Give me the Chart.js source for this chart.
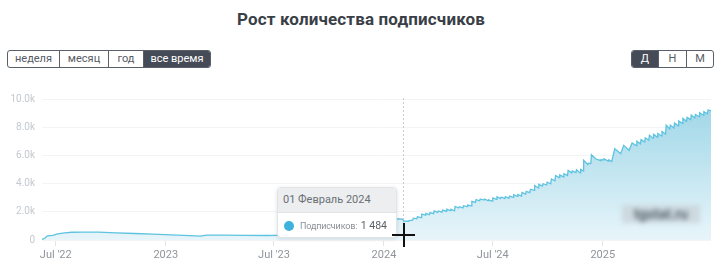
<!DOCTYPE html>
<html>
<head>
<meta charset="utf-8">
<script src="https://cdn.jsdelivr.net/npm/chart.js@4"></script>
<style>
  html,body{margin:0;padding:0;background:#fff;width:722px;height:273px;overflow:hidden;font-family:Roboto,"Open Sans",sans-serif;}
  #title{position:absolute;top:9px;left:0;width:722px;text-align:center;font-size:17px;font-weight:700;color:#3a3f47;letter-spacing:0.15px;}
  .grp{position:absolute;top:50px;height:18px;display:flex;border:1px solid #5a606a;border-radius:3px;overflow:hidden;box-sizing:border-box;}
  .grp div{height:16px;line-height:16px;text-align:center;font-size:11px;color:#555b63;border-right:1px solid #5a606a;box-sizing:border-box;}
  .grp div:last-child{border-right:none;}
  .grp div.on{background:#464c57;color:#fff;}
  #wrap{position:absolute;top:85px;left:0;width:722px;height:188px;}
  #tip{position:absolute;top:187px;width:120px;height:51px;background:#fff;border:1px solid #e2e4e6;border-radius:4px;box-shadow:0 1px 4px rgba(0,0,0,0.12);box-sizing:border-box;overflow:hidden;}
  #tip .hd{height:24px;background:#eceeef;border-bottom:1px solid #e0e2e4;font-size:11px;color:#6b7077;line-height:24px;padding-left:5px;}
  #tip .bd{height:26px;position:relative;font-size:10px;color:#8a8f95;line-height:26px;}
  #tip .dot{position:absolute;left:6px;top:8px;width:10px;height:10px;border-radius:50%;background:#3eb2dc;}
  #tip .lb{position:absolute;left:22px;top:0;font-size:9px;letter-spacing:-0.15px;}
  #tip .vl{position:absolute;right:9px;top:0;color:#5a5f66;font-size:10.5px;}
  #cross{position:absolute;width:23px;height:24px;}
  #cross .h{position:absolute;left:0;top:11px;width:23px;height:2px;background:#111;}
  #cross .v{position:absolute;left:11px;top:0;width:2px;height:24px;background:#111;}
  #wm{position:absolute;left:622px;top:205px;width:78px;height:18px;font-size:14px;font-weight:700;color:#56636b;filter:blur(2.8px);line-height:18px;text-align:center;background:rgba(200,210,215,0.75);}
</style>
</head>
<body>
<div id="title">Рост количества подписчиков</div>
<div class="grp" style="left:7px;width:204px;">
  <div style="width:52px">неделя</div><div style="width:49px">месяц</div><div style="width:35px">год</div><div class="on" style="width:66px">все время</div>
</div>
<div class="grp" style="left:631px;width:83px;">
  <div class="on" style="width:27px">Д</div><div style="width:28px">Н</div><div style="width:26px">М</div>
</div>
<div id="wrap"><canvas id="c" width="722" height="188"></canvas></div>
<div id="wm">tgstat.ru</div>
<div id="tip"><div class="hd">01 Февраль 2024</div><div class="bd"><span class="dot"></span><span class="lb">Подписчиков:</span><span class="vl">1 484</span></div></div>
<div id="cross"><div class="h"></div><div class="v"></div></div>
<script>
const seriesName = 'Подписчиков';
const tickDates = ['2022-07-01','2023-01-01','2023-07-01','2024-01-01','2024-07-01','2025-01-01'];
const tickLabels = ["Jul '22","2023","Jul '23","2024","Jul '24","2025"];
const yTicks = [0,2000,4000,6000,8000,10000];
const xRange = ['2022-06-08','2025-07-01'];
const hoverDate = '2024-02-01';

const dates = [
'2022-06-08','2022-06-13','2022-06-17','2022-06-26','2022-07-04','2022-07-16','2022-07-28','2022-08-15','2022-09-10','2022-10-10',
'2022-11-10','2022-12-10','2023-01-10','2023-02-10','2023-02-28','2023-03-10','2023-04-10','2023-05-15','2023-06-20','2023-07-20',
'2023-08-20','2023-09-20','2023-10-20','2023-11-20','2023-12-20','2024-01-10','2024-01-20','2024-01-26','2024-02-01','2024-02-03',
'2024-02-11','2024-02-12','2024-02-18','2024-02-19','2024-02-25','2024-02-26','2024-03-03','2024-03-04','2024-03-10','2024-03-11',
'2024-03-17','2024-03-18','2024-03-24','2024-03-25','2024-03-31','2024-04-01','2024-04-07','2024-04-08','2024-04-14','2024-04-15',
'2024-04-21','2024-04-22','2024-04-28','2024-04-29','2024-05-05','2024-05-06','2024-05-12','2024-05-13','2024-05-19','2024-05-20',
'2024-05-26','2024-05-27','2024-06-02','2024-06-03','2024-06-09','2024-06-10','2024-06-16','2024-06-17','2024-06-23','2024-06-24',
'2024-06-30','2024-07-01','2024-07-07','2024-07-08','2024-07-14','2024-07-15','2024-07-21','2024-07-22','2024-07-28','2024-07-29',
'2024-08-04','2024-08-05','2024-08-11','2024-08-12','2024-08-18','2024-08-19','2024-08-25','2024-08-26','2024-09-01','2024-09-02',
'2024-09-08','2024-09-09','2024-09-15','2024-09-16','2024-09-22','2024-09-23','2024-09-29','2024-09-30','2024-10-06','2024-10-07',
'2024-10-13','2024-10-14','2024-10-20','2024-10-21','2024-10-27','2024-10-28','2024-11-03','2024-11-04','2024-11-10','2024-11-11',
'2024-11-17','2024-11-18','2024-11-24','2024-11-25','2024-11-29','2024-11-30','2024-12-07','2024-12-08','2024-12-12','2024-12-13',
'2024-12-20','2024-12-28','2024-12-29','2025-01-02','2025-01-03','2025-01-10','2025-01-11','2025-01-16','2025-01-21','2025-01-31',
'2025-02-05','2025-02-14','2025-02-19','2025-02-26','2025-02-27','2025-03-05','2025-03-06','2025-03-12','2025-03-13','2025-03-19',
'2025-03-20','2025-03-26','2025-03-27','2025-04-02','2025-04-03','2025-04-09','2025-04-10','2025-04-16','2025-04-17','2025-04-23',
'2025-04-24','2025-04-30','2025-05-01','2025-05-07','2025-05-08','2025-05-14','2025-05-15','2025-05-21','2025-05-22','2025-05-28',
'2025-05-29','2025-06-04','2025-06-05','2025-06-11','2025-06-12','2025-06-18','2025-06-19','2025-06-25','2025-06-26','2025-07-01'
];
const subscribers = [
30,140,300,330,440,510,550,565,555,510,
460,410,360,310,270,350,340,330,320,340,
390,480,640,880,1180,1400,1490,1500,1484,1340,
1330,1380,1400,1550,1500,1640,1580,1830,1760,1880,
1800,1950,1870,2070,1960,2060,1980,2120,2040,2190,
2080,2180,2070,2380,2270,2360,2280,2430,2360,2480,
2420,2740,2660,2860,2780,2910,2830,2900,2790,2840,
2760,2980,2880,3070,2940,3050,2940,3070,2960,3110,
3020,3210,3090,3230,3120,3380,3260,3450,3360,3600,
3520,3860,3690,3950,3820,3990,3900,4100,3980,4330,
4200,4570,4420,4620,4480,4700,4580,4930,4760,4900,
4780,4980,4760,5000,4900,5650,5350,5450,5420,6050,
5760,5640,5700,5680,5760,5600,5680,5570,6480,6120,
6710,6360,6880,6700,7000,6820,7120,6950,7250,7080,
7430,7220,7500,7300,7560,7380,7700,7520,8140,7880,
8150,7950,8300,8100,8450,8280,8620,8420,8700,8540,
8860,8660,8900,8760,9020,8850,9100,8950,9220,9170
];

const points = dates.map((d,i)=>({x:Date.parse(d), y:subscribers[i]}));
const CANVAS_H = 188;

const hoverPlugin = {
  id:'hover',
  afterDatasetsDraw(chart){
    const {ctx, chartArea, scales} = chart;
    const px = Math.round(scales.x.getPixelForValue(Date.parse(hoverDate))) + 0.5;
    ctx.save();
    ctx.strokeStyle = '#c9cdd1';
    ctx.lineWidth = 1;
    ctx.setLineDash([2,2]);
    ctx.beginPath();
    ctx.moveTo(px, chartArea.top - 1);
    ctx.lineTo(px, chartArea.bottom);
    ctx.stroke();
    ctx.restore();
  }
};

const chart = new Chart(document.getElementById('c'), {
  type:'line',
  data:{datasets:[{
    label: seriesName,
    data: points,
    borderColor:'#5ec3e0',
    borderWidth:1.3,
    pointRadius:0,
    tension:0,
    fill:'origin',
    backgroundColor:(c)=>{
      const ch=c.chart, ca=ch.chartArea;
      if(!ca) return 'rgba(160,214,231,0.5)';
      const g=ch.ctx.createLinearGradient(0,ca.top,0,ca.bottom);
      g.addColorStop(0,'#9cd5e7');
      g.addColorStop(1,'#e8f5fa');
      return g;
    }
  }]},
  options:{
    responsive:false,
    animation:false,
    events:[],
    layout:{padding:{top:14,right:11,left:0,bottom:0}},
    plugins:{legend:{display:false},tooltip:{enabled:false}},
    scales:{
      x:{
        type:'linear',
        min:Date.parse(xRange[0]),
        max:Date.parse(xRange[1]),
        afterBuildTicks(s){ s.ticks = tickDates.map(d=>({value:Date.parse(d)})); },
        afterFit(s){ s.height = CANVAS_H - 14 - 141; },
        ticks:{
          autoSkip:false,maxRotation:0,padding:3,color:'#8f959b',
          font:{family:'Roboto',size:11},
          callback:(v)=>{const i=tickDates.findIndex(d=>Date.parse(d)===v);return i>=0?tickLabels[i]:'';}
        },
        grid:{drawOnChartArea:false,tickLength:6,color:'#e3e5e7'},
        border:{display:false}
      },
      y:{
        min:0,max:10000,
        afterBuildTicks(s){ s.ticks = yTicks.map(v=>({value:v})); },
        afterFit(s){ s.width = 42; },
        ticks:{
          padding:7,color:'#c3c9cf',font:{family:'Roboto',size:10},
          callback:(v)=> v===0 ? '0' : (v/1000).toFixed(1)+'k'
        },
        grid:{color:'#f3f4f5',drawTicks:false},
        border:{display:false}
      }
    }
  },
  plugins:[hoverPlugin]
});

const wrapTop = 85;
const hx = chart.scales.x.getPixelForValue(Date.parse(hoverDate));
const tip = document.getElementById('tip');
tip.style.left = (Math.round(hx) - 6 - 120) + 'px';
const cross = document.getElementById('cross');
cross.style.left = (Math.round(hx) - 11) + 'px';
cross.style.top = (wrapTop + Math.round(chart.scales.y.getPixelForValue(0)) - 17) + 'px';
</script>
</body>
</html>
